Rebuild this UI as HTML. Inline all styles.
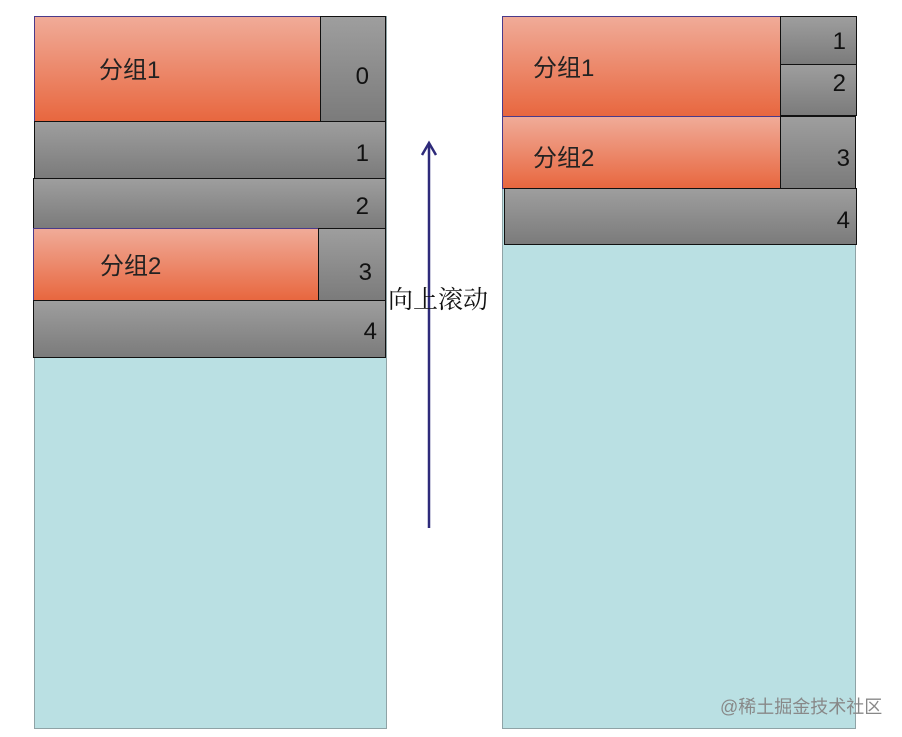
<!DOCTYPE html>
<html><head><meta charset="utf-8"><style>
body{margin:0;width:902px;height:737px;background:#fff;position:relative;overflow:hidden;font-family:"Liberation Sans","Noto Sans CJK SC",sans-serif}
div{position:absolute;box-sizing:border-box}
.t{background:#bae0e3;border:1px solid #8fa3a6}
.o{background:linear-gradient(#f0ab98,#e8673f);border:1px solid #4a3a8a;color:#222;font-size:24px}
.g{background:linear-gradient(#9e9e9e,#7b7b7b);border:1px solid #111;color:#111;font-size:24px}
.o span{position:absolute;left:64px}
.g span{position:absolute;right:14px}
</style></head><body>
<div class="t" style="left:34px;top:16px;width:353px;height:713px"></div>
<div class="t" style="left:502px;top:16px;width:354px;height:713px"></div>

<div class="o" style="left:34px;top:16px;width:287px;height:106px"><span style="top:33px">分组1</span></div>
<div class="g" style="left:320px;top:16px;width:66px;height:106px"><span style="top:46px;right:16px">0</span></div>
<div class="g" style="left:34px;top:121px;width:352px;height:58px"><span style="top:18px;right:16px">1</span></div>
<div class="g" style="left:33px;top:178px;width:353px;height:51px"><span style="top:14px;right:16px">2</span></div>
<div class="o" style="left:33px;top:228px;width:286px;height:73px"><span style="top:17px;left:66px">分组2</span></div>
<div class="g" style="left:318px;top:228px;width:68px;height:73px"><span style="top:30px;right:13px">3</span></div>
<div class="g" style="left:33px;top:300px;width:353px;height:58px"><span style="top:17px;right:8px">4</span></div>

<div class="o" style="left:502px;top:16px;width:279px;height:101px"><span style="top:31px;left:30px">分组1</span></div>
<div class="g" style="left:780px;top:16px;width:77px;height:49px"><span style="top:11px;right:10px">1</span></div>
<div class="g" style="left:780px;top:64px;width:77px;height:52px"><span style="top:5px;right:10px">2</span></div>
<div class="o" style="left:502px;top:116px;width:279px;height:73px"><span style="top:21px;left:30px">分组2</span></div>
<div class="g" style="left:780px;top:116px;width:76px;height:73px"><span style="top:28px;right:5px">3</span></div>
<div class="g" style="left:504px;top:188px;width:353px;height:57px"><span style="top:18px;right:6px">4</span></div>

<svg style="position:absolute;left:0;top:0" width="902" height="737">
<line x1="429" y1="528" x2="429" y2="144" stroke="#2e2a7a" stroke-width="2.5"/>
<polyline points="422,155 429,143 436,155" fill="none" stroke="#2e2a7a" stroke-width="2.5"/>
</svg>
<div style="left:388px;top:280px;font-family:'Liberation Serif','Noto Serif CJK SC',serif;font-size:25px;color:#111;white-space:nowrap">向上滚动</div>
<div style="left:720px;top:693px;font-size:18px;color:#888;white-space:nowrap">@稀土掘金技术社区</div>
</body></html>
